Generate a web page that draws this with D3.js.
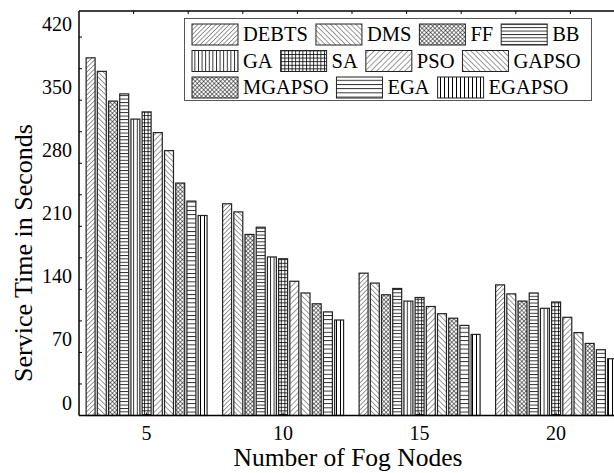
<!DOCTYPE html>
<html>
<head>
<meta charset="utf-8">
<script src="https://cdn.jsdelivr.net/npm/d3@7/dist/d3.min.js"></script>
<style>
  html, body { margin: 0; padding: 0; background: #fff; }
  svg { display: block; font-family: "Liberation Serif", "Times New Roman", serif; }
</style>
</head>
<body>
<svg id="chart" width="614" height="473"></svg>
<script>
// Number of fog nodes (groups along the x axis)
const categories = ["5", "10", "15", "20"];

// Algorithms compared
const seriesNames = ["DEBTS", "DMS", "FF", "BB", "GA", "SA", "PSO", "GAPSO", "MGAPSO", "EGA", "EGAPSO"];

// Service time (seconds) per algorithm, one value per fog-node count
const DEBTS  = [397, 235, 158, 145];
const DMS    = [382, 226, 147, 135];
const FF     = [349, 201, 134, 127];
const BB     = [357, 209, 141, 136];
const GA     = [329, 176, 127, 119];
const SA     = [337, 174, 131, 126];
const PSO    = [314, 149, 121, 109];
const GAPSO  = [294, 136, 113, 92];
const MGAPSO = [258, 124, 108, 80];
const EGA    = [238, 115, 100, 73];
const EGAPSO = [222, 106, 90, 63];

// Y axis ticks
const yMinorTicks = [0, 35, 70, 105, 140, 175, 210, 245, 280, 315, 350, 385, 420];
const yLabelTicks = [0, 70, 140, 210, 280, 350, 420];

const seriesValues = [DEBTS, DMS, FF, BB, GA, SA, PSO, GAPSO, MGAPSO, EGA, EGAPSO];

// Hatch style per algorithm
const hatchKinds = ["fwd", "back", "cross", "horiz", "vert", "grid", "fwd2", "back2", "cross", "horiz2", "vert2"];

const svg = d3.select("#chart");
const plotLeft = 79, plotTop = 11, plotBottom = 415.5, plotRight = 623.7;

const y = d3.scaleLinear().domain([0, 449]).range([plotBottom, plotTop]);

const x0 = d3.scaleBand()
  .domain(categories)
  .range([plotLeft, plotRight])
  .paddingInner(0.0974)
  .paddingOuter(0.044);

const x1 = d3.scaleBand()
  .domain(seriesNames)
  .range([0, x0.bandwidth()])
  .paddingInner(0.2)
  .paddingOuter(0.1);

// ---- hatch patterns ----
const defs = svg.append("defs");
function makePattern(id, kind) {
  let size = 4, sw = 0.8, rot = 0, lines = [];
  switch (kind) {
    case "fwd":   size = 3.2; rot = 45;  lines = [[0, 0, 0, size]]; break;
    case "back":  size = 3.6; rot = -45; lines = [[0, 0, 0, size]]; break;
    case "fwd2":  size = 4.0; rot = 45;  lines = [[0, 0, 0, size]]; break;
    case "back2": size = 3.8; rot = -45; lines = [[0, 0, 0, size]]; break;
    case "cross": size = 3.0; rot = 45;  sw = 1.0; lines = [[0, 0, 0, size], [0, 0, size, 0]]; break;
    case "horiz": size = 3.4; lines = [[0, 0.5, size, 0.5]]; break;
    case "horiz2":size = 4.2; lines = [[0, 0.5, size, 0.5]]; break;
    case "vert":  size = 3.6; lines = [[0.5, 0, 0.5, size]]; break;
    case "vert2": size = 4.0; sw = 1.0; lines = [[0.5, 0, 0.5, size]]; break;
    case "grid":  size = 3.6; lines = [[0, 0.5, size, 0.5], [0.5, 0, 0.5, size]]; break;
  }
  const p = defs.append("pattern")
    .attr("id", id)
    .attr("patternUnits", "userSpaceOnUse")
    .attr("width", size)
    .attr("height", size);
  if (rot) p.attr("patternTransform", `rotate(${rot})`);
  p.append("rect").attr("width", size).attr("height", size).attr("fill", "#fff");
  lines.forEach(l => {
    p.append("line")
      .attr("x1", l[0]).attr("y1", l[1]).attr("x2", l[2]).attr("y2", l[3])
      .attr("stroke", "#000").attr("stroke-width", sw);
  });
}
seriesNames.forEach((s, i) => makePattern("pat-" + s, hatchKinds[i]));

// ---- bars ----
const rows = [];
categories.forEach((c, ci) => {
  seriesNames.forEach((s, si) => rows.push({ cat: c, name: s, value: seriesValues[si][ci] }));
});

svg.append("g")
  .selectAll("rect")
  .data(rows)
  .join("rect")
  .attr("x", d => x0(d.cat) + x1(d.name))
  .attr("y", d => y(d.value))
  .attr("width", x1.bandwidth())
  .attr("height", d => y(0) - y(d.value))
  .attr("fill", d => `url(#pat-${d.name})`)
  .attr("stroke", "#222")
  .attr("stroke-width", 1.2);

// ---- axes ----
const axisColor = "#000";
svg.append("line").attr("x1", plotLeft).attr("x2", plotLeft).attr("y1", plotTop).attr("y2", plotBottom)
  .attr("stroke", axisColor).attr("stroke-width", 1.5);
svg.append("line").attr("x1", plotLeft).attr("x2", 614).attr("y1", plotBottom).attr("y2", plotBottom)
  .attr("stroke", axisColor).attr("stroke-width", 1.5);
svg.append("line").attr("x1", plotLeft).attr("x2", 614).attr("y1", plotTop).attr("y2", plotTop)
  .attr("stroke", axisColor).attr("stroke-width", 1.5);

// left inward ticks
svg.append("g").selectAll("line").data(yMinorTicks.filter(v => v > 0)).join("line")
  .attr("x1", plotLeft).attr("x2", plotLeft + 3)
  .attr("y1", d => y(d)).attr("y2", d => y(d))
  .attr("stroke", axisColor).attr("stroke-width", 1);

// left labels
svg.append("g").selectAll("text").data(yLabelTicks).join("text")
  .attr("x", 72)
  .attr("y", d => y(d) - 6)
  .attr("text-anchor", "end")
  .attr("font-size", 20)
  .text(d => d);

// top inward ticks
const topScale = d3.scaleLinear().domain([0, 10]).range([plotLeft, plotRight + 1.3]);
svg.append("g").selectAll("line").data(d3.range(1, 10)).join("line")
  .attr("x1", d => topScale(d)).attr("x2", d => topScale(d))
  .attr("y1", plotTop).attr("y2", plotTop + 3)
  .attr("stroke", axisColor).attr("stroke-width", 1);

// bottom inward ticks at group centres
svg.append("g").selectAll("line").data(categories).join("line")
  .attr("x1", d => x0(d) + x0.bandwidth() / 2).attr("x2", d => x0(d) + x0.bandwidth() / 2)
  .attr("y1", plotBottom).attr("y2", plotBottom - 3)
  .attr("stroke", axisColor).attr("stroke-width", 1);

// bottom labels
svg.append("g").selectAll("text").data(categories).join("text")
  .attr("x", d => x0(d) + x0.bandwidth() / 2)
  .attr("y", 440)
  .attr("text-anchor", "middle")
  .attr("font-size", 20)
  .text(d => d);

// axis titles
svg.append("text")
  .attr("x", 348).attr("y", 466)
  .attr("text-anchor", "middle")
  .attr("font-size", 25.5)
  .text("Number of Fog Nodes");

svg.append("text")
  .attr("transform", "translate(32,253) rotate(-90)")
  .attr("text-anchor", "middle")
  .attr("font-size", 26)
  .text("Service Time in Seconds");

// ---- legend ----
const legendRows = [seriesNames.slice(0, 4), seriesNames.slice(4, 8), seriesNames.slice(8)];
const lg = svg.append("g");
lg.append("rect")
  .attr("x", 184.5).attr("y", 18.5).attr("width", 407).attr("height", 82)
  .attr("fill", "#fff").attr("stroke", "#555").attr("stroke-width", 1);

const swW = 46, swH = 21;
legendRows.forEach((row, ri) => {
  let cx = 192;
  const ry = 24 + ri * 26.5;
  row.forEach(name => {
    lg.append("rect")
      .attr("x", cx).attr("y", ry).attr("width", swW).attr("height", swH)
      .attr("fill", `url(#pat-${name})`)
      .attr("stroke", "#222").attr("stroke-width", 1);
    const t = lg.append("text")
      .attr("x", cx + swW + 5).attr("y", ry + 17)
      .attr("font-size", 20.5)
      .text(name);
    cx += swW + 5 + t.node().getComputedTextLength() + 8;
  });
});
</script>
</body>
</html>
